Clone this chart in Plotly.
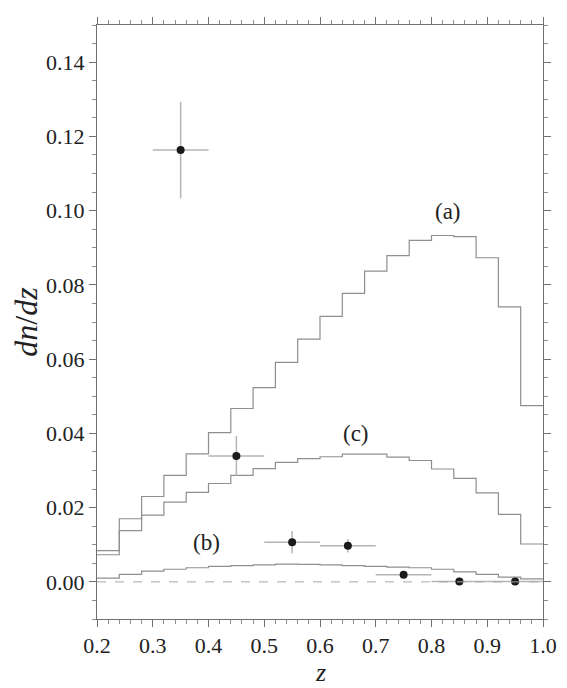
import plotly.graph_objects as go

# bin edges of the model histograms (width 0.04)
edges = [0.20, 0.24, 0.28, 0.32, 0.36, 0.40, 0.44, 0.48, 0.52, 0.56, 0.60,
         0.64, 0.68, 0.72, 0.76, 0.80, 0.84, 0.88, 0.92, 0.96, 1.00]

hist_a = [0.0084, 0.0170, 0.0230, 0.0287, 0.0345, 0.0402, 0.0467, 0.0523, 0.0591, 0.0654,
          0.0715, 0.0777, 0.0837, 0.0879, 0.0920, 0.0933, 0.0930, 0.0873, 0.0741, 0.0475]
hist_b = [0.0010, 0.0020, 0.0029, 0.0034, 0.0038, 0.0042, 0.0044, 0.0046, 0.0048, 0.0047,
          0.0046, 0.0044, 0.0042, 0.0040, 0.0038, 0.0034, 0.0027, 0.0020, 0.0013, 0.0008]
hist_c = [0.0073, 0.0138, 0.0180, 0.0215, 0.0241, 0.0265, 0.0287, 0.0305, 0.0322, 0.0332,
          0.0337, 0.0344, 0.0344, 0.0336, 0.0327, 0.0304, 0.0279, 0.0240, 0.0182, 0.0102]

# measured points
data_z = [0.35, 0.45, 0.55, 0.65, 0.75, 0.85, 0.95]
data_y = [0.1163, 0.0339, 0.0107, 0.0097, 0.0019, 0.0001, 0.0001]
data_yerr = [0.0130, 0.0054, 0.0030, 0.0018, 0.0005, 0.0002, 0.0002]
data_zerr = [0.05, 0.05, 0.05, 0.05, 0.05, 0.05, 0.05]

labels = ["(a)", "(b)", "(c)"]
label_z = [0.83, 0.397, 0.664]
label_y = [0.0997, 0.0105, 0.0401]

font_name = "Liberation Serif, Times New Roman, serif"
fig = go.Figure()

for h in [hist_a, hist_b, hist_c]:
    fig.add_trace(go.Scatter(
        x=edges, y=h + [h[-1]], mode="lines", line_shape="hv",
        line=dict(color="#8f8f8f", width=1.2), showlegend=False))

fig.add_hline(y=0, line=dict(color="#a8a8a8", width=1, dash="dash"))

fig.add_trace(go.Scatter(
    x=data_z, y=data_y, mode="markers",
    marker=dict(color="#1a1a1a", size=8),
    error_x=dict(type="data", array=data_zerr, color="#b5b5b5", thickness=1.5, width=0),
    error_y=dict(type="data", array=data_yerr, color="#b5b5b5", thickness=1.5, width=0),
    showlegend=False))

for t, lx, ly in zip(labels, label_z, label_y):
    fig.add_annotation(x=lx, y=ly, text=t, showarrow=False,
                       font=dict(family=font_name, size=23, color="#222"))

# x axis title as an annotation so it sits below the tick labels
fig.add_annotation(x=0.5, y=-0.09, xref="paper", yref="paper", text="<i>z</i>",
                   showarrow=False, yanchor="middle",
                   font=dict(family=font_name, size=26, color="#222"))

axis_common = dict(
    showline=True, linecolor="#707070", linewidth=1, mirror="allticks",
    ticks="outside", ticklen=7, tickcolor="#707070", tickwidth=1,
    showgrid=False, zeroline=False, automargin=False,
    tickfont=dict(family=font_name, size=22, color="#222"),
)

fig.update_xaxes(
    range=[0.2, 1.0], tickvals=[0.2, 0.3, 0.4, 0.5, 0.6, 0.7, 0.8, 0.9, 1.0],
    ticktext=["0.2", "0.3", "0.4", "0.5", "0.6", "0.7", "0.8", "0.9", "1.0"],
    minor=dict(ticks="outside", dtick=0.02, tick0=0.2, ticklen=4, tickcolor="#909090"),
    **axis_common)
fig.update_yaxes(
    range=[-0.01, 0.15], tickvals=[0.0, 0.02, 0.04, 0.06, 0.08, 0.10, 0.12, 0.14],
    ticktext=["0.00", "0.02", "0.04", "0.06", "0.08", "0.10", "0.12", "0.14"],
    minor=dict(ticks="outside", dtick=0.005, tick0=0, ticklen=4, tickcolor="#909090"),
    title=dict(text="<i>dn</i>/<i>dz</i>", font=dict(family=font_name, size=32, color="#222")),
    **axis_common)

# page body has an 8px margin, so the figure is a bit smaller and shifted
fig.update_layout(
    width=559, height=680,
    margin=dict(l=89, r=24, t=17, b=69),
    font=dict(family=font_name, color="#222"),
    plot_bgcolor="white", paper_bgcolor="white",
)

fig.write_html("out.html")
